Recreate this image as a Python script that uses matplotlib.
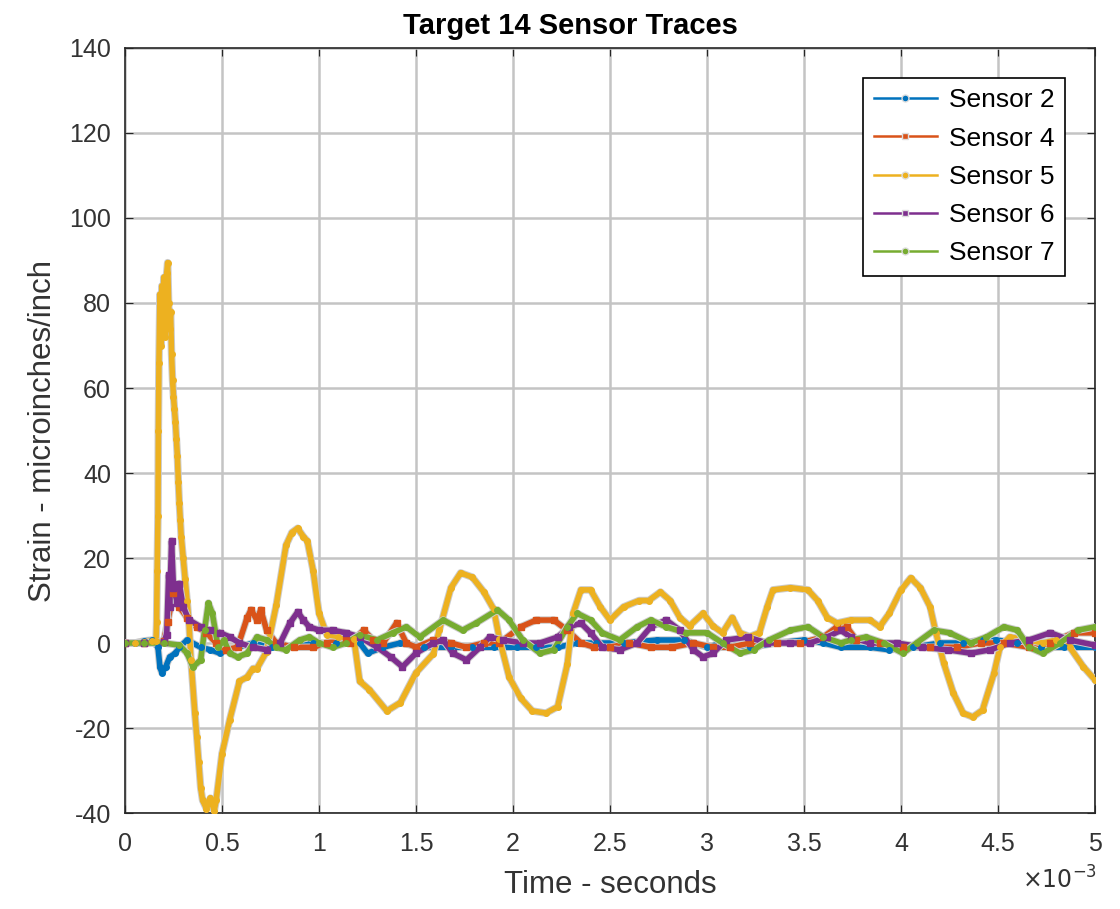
import numpy as np
import matplotlib
matplotlib.use('Agg')
import matplotlib.pyplot as plt
import matplotlib.patheffects as pe
from matplotlib.lines import Line2D

plt.rcParams['font.family'] = ['Liberation Sans', 'DejaVu Sans']
plt.rcParams['axes.unicode_minus'] = False

#%% data (time in ms, strain in microinches/inch)
t_s2 = [0, 0.05, 0.1, 0.14, 0.17, 0.18, 0.19, 0.21, 0.23, 0.26, 0.28, 0.32, 0.39, 0.44, 0.49, 0.52,
        0.58, 0.66, 0.76, 0.87, 0.97, 1.09, 1.21, 1.25, 1.33, 1.42, 1.54, 1.68, 1.79, 1.9, 2.02,
        2.12, 2.23, 2.33, 2.43, 2.57, 2.74, 2.88, 3.0, 3.08, 3.22, 3.36, 3.5, 3.6, 3.69, 3.84,
        3.94, 4.06, 4.2, 4.32, 4.42, 4.49, 4.6, 4.72, 4.84, 5.0]
v_s2 = [0, 0, 0.5, 0.7, -1, -5.6, -7, -5.6, -3.3, -2.4, -1, 0.7, -1, -1.6, -2.4, -1.6,
        -1, 0, -1, -1, 0, 0, 0, -2.4, -1, 0, -1, -1, -1, -1, -1,
        -1, -1, 0, 0, 0, 0.7, 0.7, -1, 0, -1, 0, 0.7, 0, -1, -1,
        -1.6, -1, 0, 0, 0.7, 0.7, 0, -1, -1, -1]

t_s4 = [0, 0.1, 0.2, 0.22, 0.25, 0.28, 0.32, 0.37, 0.42, 0.47, 0.52, 0.58, 0.63, 0.65, 0.68, 0.7,
        0.73, 0.78, 0.87, 0.97, 1.04, 1.14, 1.16, 1.23, 1.28, 1.33, 1.4, 1.45, 1.5, 1.59, 1.68,
        1.76, 1.85, 1.93, 2.04, 2.12, 2.21, 2.28, 2.35, 2.42, 2.5, 2.6, 2.71, 2.82, 2.93, 3.03,
        3.12, 3.22, 3.36, 3.48, 3.6, 3.67, 3.72, 3.77, 3.89, 4.01, 4.15, 4.29, 4.41, 4.53, 4.66,
        4.77, 4.89, 5.0]
v_s4 = [0, 0, 0.5, 5, 11.8, 8.5, 6, 3.8, 2.4, 0, -1.6, -1, 6, 7.8, 5.4, 7.8,
        3, 0, -1, -1, 0, 0.7, 0, 3, 0.7, 0, 4.7, 0, -1, 0.7, 0,
        -1, 0, 0, 3.8, 5.4, 5.4, 3, 0, -1, -1, 0, -1, -1, 0, -1,
        -1, 0, 0, 0, 1.4, 3.8, 3.8, 0.7, 0, -1, -1, -1, 0, 0, -1,
        0, 2.4, 2.4]

t_s5 = [0, 0.05, 0.1, 0.14, 0.16, 0.163, 0.166, 0.17, 0.172, 0.175, 0.18, 0.185, 0.19, 0.195,
        0.2, 0.205, 0.21, 0.215, 0.22, 0.225, 0.23, 0.235, 0.24, 0.245, 0.25, 0.255, 0.26,
        0.265, 0.27, 0.275, 0.28, 0.285, 0.29, 0.3, 0.31, 0.32, 0.33, 0.34, 0.36, 0.37, 0.38,
        0.39, 0.4, 0.42, 0.44, 0.46, 0.47, 0.5, 0.54, 0.59, 0.63, 0.66, 0.68, 0.73, 0.78, 0.83,
        0.86, 0.89, 0.92, 0.94, 0.97, 1.0, 1.04, 1.1, 1.18, 1.21, 1.26, 1.35, 1.42, 1.5, 1.59,
        1.62, 1.68, 1.73, 1.79, 1.85, 1.9, 1.93, 1.98, 2.04, 2.1, 2.17, 2.23, 2.28, 2.31, 2.35,
        2.4, 2.45, 2.5, 2.57, 2.65, 2.7, 2.76, 2.81, 2.86, 2.91, 2.98, 3.03, 3.08, 3.13, 3.17,
        3.22, 3.27, 3.31, 3.34, 3.43, 3.52, 3.57, 3.62, 3.67, 3.74, 3.84, 3.89, 3.94, 4.0, 4.05,
        4.1, 4.15, 4.18, 4.22, 4.27, 4.32, 4.37, 4.42, 4.48, 4.51, 4.56, 4.66, 4.73, 4.8, 4.87,
        4.94, 5.0]
v_s5 = [0, 0, 0.3, 0.5, 0.5, 5, 17, 30, 50, 66, 82, 70, 84, 78,
        86, 72, 84, 87, 89.5, 80, 74, 78, 68, 62, 58, 55, 52,
        48, 44, 38, 33, 29, 25, 20, 15, 10, 4.7, -4, -16.5, -22, -28,
        -34, -37, -39, -36.5, -39.5, -37, -26, -18, -9, -8, -6, -6, -2, 9, 23,
        26, 27, 25, 24, 17, 7, 2, 1.5, 1, -9, -11, -16, -14, -7, -2.5,
        3, 13, 16.5, 15.5, 12, 8, 1, -8, -13, -16, -16.5, -15, -5, 7, 12.5,
        12.5, 8.5, 5.4, 8.5, 10, 10, 12, 10, 6, 4, 7, 4, 2.4, 6, 2.4,
        1.5, 2.4, 8.5, 12.5, 13, 12.5, 10, 6, 4.7, 5.4, 5.4, 3.8, 7, 12.5, 15.3,
        13, 8.5, 2.4, -4.7, -11.8, -16.5, -17.4, -15.8, -7, -1, 1.4, 0.7, 0, 0.7, -1,
        -5.6, -8.7]

t_s6 = [0, 0.1, 0.2, 0.215, 0.225, 0.23, 0.24, 0.25, 0.27, 0.28, 0.3, 0.33, 0.39, 0.44, 0.49,
        0.54, 0.59, 0.66, 0.73, 0.8, 0.85, 0.89, 0.92, 0.95, 1.0, 1.07, 1.14, 1.21, 1.3, 1.37,
        1.43, 1.5, 1.59, 1.64, 1.69, 1.76, 1.83, 1.88, 1.95, 2.05, 2.14, 2.23, 2.29, 2.35, 2.4,
        2.46, 2.55, 2.64, 2.71, 2.79, 2.86, 2.93, 2.98, 3.03, 3.1, 3.21, 3.31, 3.43, 3.53, 3.62,
        3.69, 3.74, 3.84, 3.98, 4.11, 4.24, 4.36, 4.46, 4.56, 4.66, 4.77, 4.87, 5.0]
v_s6 = [0, 0, 0.3, 2, 16, 8.5, 24, 13, 9.4, 14, 8.5, 5.4, 3.8, 3, 2.4,
        1.4, 0, -1, -1.6, 0, 4.7, 7.3, 5.4, 3.8, 3, 3, 2.4, 1.4, -1, -3.3,
        -5.6, -2.4, 0, 0.7, -2.4, -4, -1, 1.4, 0.7, 0, 0, 1.4, 3.8, 4.7, 2.4,
        -1, -1.6, 0, 3.8, 5.4, 3, -1.6, -3.3, -2.4, 0.7, 1.4, 0, 0, 0, 1.4,
        3, 1.4, 0, 0, -1, -1.6, -2.4, -1.6, 0, 0.7, 2.4, 0.7, -0.5]

t_s7 = [0, 0.1, 0.2, 0.28, 0.32, 0.35, 0.39, 0.41, 0.43, 0.45, 0.48, 0.51, 0.54, 0.58, 0.63,
        0.68, 0.73, 0.78, 0.83, 0.9, 0.95, 1.0, 1.07, 1.14, 1.21, 1.3, 1.38, 1.45, 1.52, 1.64,
        1.74, 1.81, 1.92, 1.98, 2.05, 2.14, 2.21, 2.28, 2.33, 2.4, 2.46, 2.55, 2.64, 2.71, 2.79,
        2.89, 3.0, 3.08, 3.17, 3.24, 3.32, 3.43, 3.52, 3.6, 3.69, 3.74, 3.82, 3.91, 4.01, 4.08,
        4.17, 4.25, 4.36, 4.44, 4.53, 4.6, 4.66, 4.73, 4.82, 4.91, 5.0]
v_s7 = [0, 0, 0, -0.5, -2.4, -5.6, -4, 3, 9.4, 7, -1, 0.7, -2.4, -3.3, -2.4,
        1.4, 0.7, -1, -1.6, 0.7, 1.4, 0, -1, 0, 1.9, 0.7, 2.4, 3.8, 1.4, 5.4,
        3, 4.7, 7.8, 5.4, 0.7, -2.4, -1.6, 3.8, 7, 5.4, 2.4, 0.7, 3.8, 5.4, 3.8,
        2.4, 2.4, 0, -2.4, -1.6, 0.7, 3, 3.8, 1.4, 0, 0.7, 1.4, 0, -2.4, 0,
        3, 2.4, 0, 1.4, 3.8, 3, -1, -2.4, 0, 3, 3.8]

names = ['Sensor 2', 'Sensor 4', 'Sensor 5', 'Sensor 6', 'Sensor 7']
colors = ['#0072BD', '#D95319', '#EDB120', '#7E2F8E', '#77AC30']
markers = ['o', 's', 'o', 's', 'o']
xtick_vals = [0, 0.5, 1, 1.5, 2, 2.5, 3, 3.5, 4, 4.5, 5]
xtick_labels = ['0', '0.5', '1', '1.5', '2', '2.5', '3', '3.5', '4', '4.5', '5']
ytick_vals = [-40, -20, 0, 20, 40, 60, 80, 100, 120, 140]

#%% plot
fig = plt.figure(figsize=(11.2, 9.09), dpi=100)
ax = fig.add_axes([0.1116, 0.1056, 0.8661, 0.8416])

series = [(t_s2, v_s2), (t_s4, v_s4), (t_s5, v_s5), (t_s6, v_s6), (t_s7, v_s7)]
halo = [pe.Stroke(linewidth=5.4, foreground='#cccccc'), pe.Normal()]
for (tt, vv), cc, mk in zip(series, colors, markers):
    tsec = np.array(tt) * 1e-3
    ax.plot(tsec, vv, color=cc, lw=4, path_effects=halo, zorder=3)
    ax.plot(tsec, vv, ls='none', marker=mk, ms=4, mfc=cc, mec=cc, zorder=3.1)

ax.set_xlim(0, 5e-3)
ax.set_ylim(-40, 140)
ax.set_xticks(np.array(xtick_vals) * 1e-3)
ax.set_xticklabels(xtick_labels)
ax.set_yticks(ytick_vals)
ax.grid(True, color='#c4c4c4', lw=1.8)
ax.set_axisbelow(True)
ax.tick_params(direction='in', top=True, right=True, labelsize=18,
               labelcolor='#333333', color='#262626', length=6)
ax.tick_params(axis='x', pad=14)
ax.tick_params(axis='y', pad=10)
for sp in ax.spines.values():
    sp.set_color('#262626')
    sp.set_linewidth(1.2)

ax.set_xlabel('Time - seconds', fontsize=22.5, color='#333333', labelpad=10)
ax.set_ylabel('Strain - microinches/inch', fontsize=22.5, color='#333333', labelpad=8)
ax.set_title('Target 14 Sensor Traces', fontsize=21, fontweight='bold', pad=10, x=0.459)
fig.text(0.946, 0.022, r'$\times10^{-3}$', fontsize=17, color='#333333', ha='center')

handles = [Line2D([0], [0], color=cc, lw=1.8, marker=mk, ms=5, mfc=cc, mec='#dddddd')
           for cc, mk in zip(colors, markers)]
leg = ax.legend(handles, names, loc='upper right', bbox_to_anchor=(0.969, 0.961),
                borderaxespad=0, fontsize=19, fancybox=False, framealpha=1,
                edgecolor='black', labelspacing=0.54, handlelength=2.4, handletextpad=0.45)
leg.get_frame().set_linewidth(1.2)

plt.savefig('out.png', dpi=100)
